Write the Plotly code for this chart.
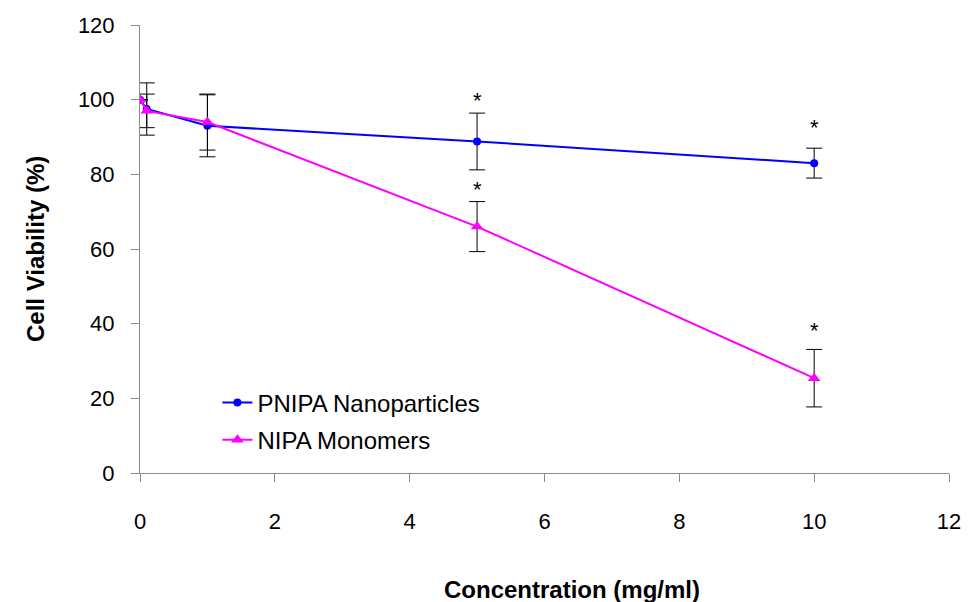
import plotly.graph_objects as go

# ---- data ----
concentration = [0, 0.1, 1, 5, 10]
pnipa_viability = [100, 97.5, 93, 88.8, 83]
pnipa_error = [0, 7, 8.3, 7.6, 4]
nipa_viability = [100, 97, 94, 66, 25.4]
nipa_error = [0, 4.5, 7.5, 6.7, 7.7]

star_x = [5, 5, 10, 10]
star_y = [100.4, 76.5, 93.2, 38.8]

x_ticks = [0, 2, 4, 6, 8, 10, 12]
y_ticks = [0, 20, 40, 60, 80, 100, 120]

FONT = "Liberation Sans, Arial, sans-serif"

fig = go.Figure()
fig.add_trace(go.Scatter(
    x=concentration, y=pnipa_viability, name="PNIPA Nanoparticles",
    mode="lines+markers", legendgroup="a",
    line=dict(color="#0000FF", width=2),
    marker=dict(symbol="circle", size=8, color="#0000FF"),
    error_y=dict(type="data", array=pnipa_error, visible=True,
                 color="black", thickness=1, width=8),
))
fig.add_trace(go.Scatter(
    x=concentration, y=nipa_viability, name="NIPA Monomers",
    mode="lines+markers", legendgroup="b",
    line=dict(color="#FF00FF", width=2),
    marker=dict(symbol="triangle-up", size=11, color="#FF00FF"),
    error_y=dict(type="data", array=nipa_error, visible=True,
                 color="black", thickness=1, width=8),
))

for sx, sy in zip(star_x, star_y):
    fig.add_annotation(x=sx, y=sy, text="*", showarrow=False,
                       font=dict(family=FONT, size=22, color="black"),
                       yanchor="middle", yshift=-2)

fig.add_annotation(xref="paper", yref="paper", x=(576 - 140) / 817, y=-(589 - 473) / 448,
                   text="<b>Concentration (mg/ml)</b>", showarrow=False,
                   font=dict(family=FONT, size=24, color="black"),
                   xanchor="center", yanchor="middle")
fig.add_annotation(xref="paper", yref="paper", x=-(140 - 34) / 817, y=0.5,
                   text="<b>Cell Viability (%)</b>", showarrow=False, textangle=-90,
                   font=dict(family=FONT, size=24, color="black"),
                   xanchor="center", yanchor="middle")

fig.update_layout(
    width=973, height=602,
    margin=dict(l=140, r=16, t=25, b=129),
    paper_bgcolor="white", plot_bgcolor="white",
    font=dict(family=FONT, size=22, color="black"),
    showlegend=True,
    legend=dict(x=0.0957, y=0.115, xanchor="left", yanchor="middle",
                font=dict(family=FONT, size=24, color="black"),
                bgcolor="rgba(0,0,0,0)", tracegroupgap=3,
                itemwidth=30),
)
fig.update_xaxes(range=[0, 12], tickvals=x_ticks, showgrid=False, zeroline=False,
                 showline=True, linecolor="#8c8c8c", linewidth=1,
                 ticks="outside", ticklen=8, tickcolor="#8c8c8c",
                 ticklabelstandoff=21, tickfont=dict(size=22))
fig.update_yaxes(range=[0, 120], tickvals=y_ticks, showgrid=False, zeroline=False,
                 showline=True, linecolor="#8c8c8c", linewidth=1,
                 ticks="outside", ticklen=8, tickcolor="#8c8c8c",
                 ticklabelstandoff=12, tickfont=dict(size=22))

fig.write_html("out.html")
